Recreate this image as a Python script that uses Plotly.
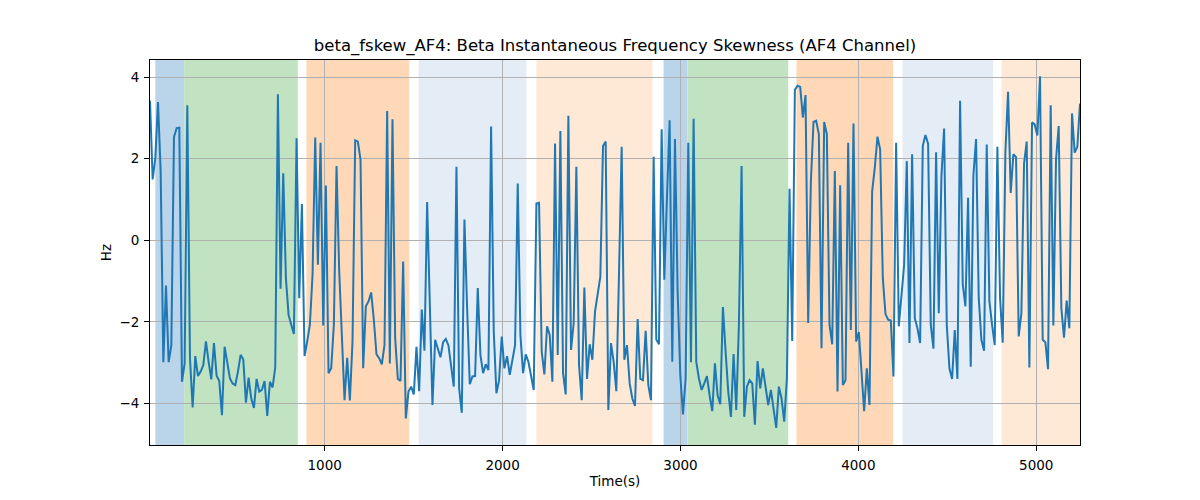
import numpy as np
import plotly.graph_objects as go

# ---- data ----
t_start = 18.0      # first sample time (s)
t_step = 14.98      # sampling step (s)

values = [
    3.42, 1.49, 2.02, 3.39, 1.7, -2.99, -1.11, -2.99, -2.58, 2.53,
    2.75, 2.76, -3.47, -3.02, 3.31, -2.89, -4.1, -2.84, -3.33, -3.22,
    -3.06, -2.48, -2.98, -3.41, -2.52, -3.32, -3.45, -4.29, -2.61, -3.06,
    -3.39, -3.51, -3.55, -3.22, -2.81, -2.92, -3.98, -3.37, -3.88, -4.11,
    -3.4, -3.71, -3.67, -3.45, -4.31, -3.47, -3.61, -3.12, 3.58, -1.19,
    1.64, -0.93, -1.83, -2.07, -2.3, 2.5, -1.42, 0.89, -2.84, -2.48,
    -2.07, -0.84, 2.52, -0.6, 2.39, -2.09, 1.34, -3.26, -3.14, -2.07,
    1.82, -0.76, -2.32, -3.92, -2.88, -3.93, -2.48, 2.45, 2.42, 1.98,
    -3.14, -1.62, -1.5, -1.28, -1.95, -2.8, -2.89, -3.04, -2.57, 3.17,
    -3.02, 2.97, -2.4, -3.4, -3.45, -0.52, -4.37, -3.71, -3.59, -3.78,
    -2.61,
    -3.7, -1.7, -2.71, 0.94, -1.58, -4.04, -2.44, -2.69, -2.87, -2.5,
    -2.42, -2.58, -3.14, -3.59, 1.8, -3.63, -4.23, 0.51, -1.66, -3.53,
    -3.34, -3.33, -1.17, -2.81, -3.26, -3.04, -3.18, 2.79, -2.24, -3.75,
    -3.43, -2.36, -3.14, -2.84, -3.3, -2.93, -2.57, 1.39, -2.32, -3.26,
    -2.8, -2.98, -3.3, -3.67, 0.9, 0.92, -2.73, -3.29, -2.11, -2.32,
    -3.47,
    2.37, -2.81, 2.68, -3.26, -3.78, 3.05, -2.69, -2.03, 1.8, -3.06,
    -3.92, -1.16, -3.4, -2.55, -2.93, -1.75, -1.25, -0.89, 2.31, 2.42,
    -4.16, -2.52, -2.98, -3.7, -0.84, 2.29, -2.93, -2.57, -3.51, -3.88,
    -4.06, -1.93, -3.4, -3.43, -2.22, -3.55, -3.92, 2.05, -2.43, -2.55,
    2.72, -0.97, 1.04, 2.94, -2.98, 2.48, -1.25, -3.3, -4.27, -3.39,
    2.39, -2.99, 2.98, -2.98, -3.39, -3.67, -3.51, -3.33, -3.8, -4.19,
    -3.02, -3.8, -4.02, -1.64, -2.73, -3.71, -4.33, -2.79, -4.16, -2.07,
    1.82, -4.33, -3.59, -3.43, -3.51, -4.52, -2.96, -3.63, -3.14, -3.63,
    -4.04, -3.67, -4.2, -4.6, -3.59, -3.88, -4.45, -3.39, 1.26, -2.47,
    3.69, 3.79, 3.76, 3.01, 3.56, -2.03, 1.43, 2.9, 2.93, 2.6,
    -2.65,
    2.9, 2.6, -2.07, -2.55, 1.7, -3.71, 1.35, -3.55, -3.43, 2.39,
    -2.2, 2.86, -2.48, -2.25, -3.3, -4.19, -3.14, -4.04, 1.2, 1.78,
    2.54, 2.23, -0.93, -1.81, -1.95, -1.97, -3.34, 2.39, -2.11, -1.42,
    -0.6, 1.94, -2.52, 2.11, -1.91, -2.16, -2.52, 2.31, 2.58, 2.37,
    -2.07, -2.66, 2.16, -1.79, 1.57, 2.74, -2.07, -3.14, -3.4, -2.2,
    -3.4,
    3.42, -1.09, -1.62, 1.04, -3.1, 1.6, 2.48, -1.42, -2.44, -2.71,
    2.35, -1.5, -2.07, -2.57, 2.29, -1.42, -2.51, 2.15, 3.64, 1.16,
    2.11, 2.04, -2.36, -1.79, 1.88, 2.42, -3.12, 2.89, 2.84, 2.57,
    4.02, -2.44, -2.5, -3.16, 3.31, -2.09, 1.98, 2.8, -1.66, -2.39,
    -1.48, -2.16, 3.11, 2.15, 2.29, 3.35,
]

time = t_start + t_step * np.arange(len(values))

span_starts = [48, 210, 897, 1528, 2190, 2905, 3039, 3652, 4248, 4805]
span_ends = [210, 849, 1475, 2134, 2843, 3039, 3606, 4196, 4758, 5300]
span_kinds = ["blue", "green", "orange", "lightblue", "lightorange",
              "blue", "green", "orange", "lightblue", "lightorange"]
kind_colors = {
    "blue": "#bad4e9",
    "green": "#c1e3c1",
    "orange": "#ffd9b7",
    "lightblue": "#e4ecf6",
    "lightorange": "#fee9d7",
}

x_ticks = [1000, 2000, 3000, 4000, 5000]
y_ticks = [-4, -2, 0, 2, 4]

# ---- figure ----
fig = go.Figure()
fig.add_trace(go.Scatter(
    x=time, y=values, mode="lines",
    line=dict(color="#1f77b4", width=2),
    showlegend=False, hoverinfo="skip",
))

for s, e, k in zip(span_starts, span_ends, span_kinds):
    fig.add_shape(type="rect", xref="x", yref="paper", x0=s, x1=e, y0=0, y1=1,
                  fillcolor=kind_colors[k], line=dict(width=0), layer="below")

axis_common = dict(
    showline=True, linecolor="black", linewidth=1, mirror=True,
    ticks="outside", ticklen=5, tickcolor="black", tickwidth=1,
    showgrid=True, gridcolor="#b0b0b0", gridwidth=1, zeroline=False,
    tickfont=dict(family="DejaVu Sans", size=13.5, color="black"),
    automargin=False,
)

fig.update_layout(
    width=1200, height=500,
    margin=dict(l=142, r=128, t=52, b=63),
    paper_bgcolor="white", plot_bgcolor="white",
    font=dict(family="DejaVu Sans", color="black"),
    title=dict(text="beta_fskew_AF4: Beta Instantaneous Frequency Skewness (AF4 Channel)",
               x=0.5, xref="paper", xanchor="center",
               y=0.926, yref="container", yanchor="middle",
               font=dict(family="DejaVu Sans", size=16.5, color="black")),
    xaxis=dict(range=[time[0], time[-1]], tickvals=x_ticks, ticklabelstandoff=3,
               title=dict(text="Time(s)", font=dict(family="DejaVu Sans", size=13.5), standoff=4),
               **axis_common),
    yaxis=dict(range=[-5.02, 4.42], tickvals=y_ticks, ticklabelstandoff=2,
               title=dict(text="Hz", font=dict(family="DejaVu Sans", size=13.5), standoff=4),
               **axis_common),
)

fig.write_html("out.html")
